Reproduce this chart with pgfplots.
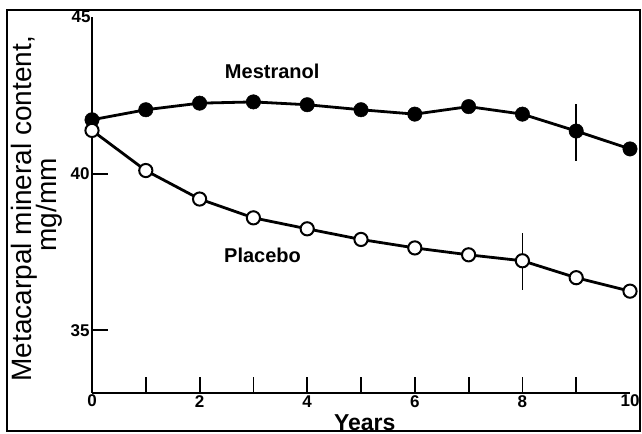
\documentclass[border=0pt]{standalone}
\usepackage{pgfplots}
\pgfplotsset{compat=1.18}
\usepackage{fontspec}
\setmainfont{Liberation Sans}
\newcommand\tlfont{\fontsize{17bp}{20bp}\selectfont\bfseries}
\begin{document}
\begin{tikzpicture}
\begin{axis}[
  width=538bp, height=376bp, scale only axis,
  xmin=0, xmax=10, ymin=33, ymax=45,
  axis lines=left,
  axis line style={-, line width=2.2bp},
  clip=false,
  tick align=inside,
  xtick={1,...,9},
  xticklabels={,2,,4,,6,,8,},
  extra x ticks={0,10},
  extra x tick labels={0,10},
  extra x tick style={major tick length=0pt, xticklabel style={font=\tlfont, yshift=1bp}},
  ytick={35,40},
  extra y ticks={45},
  extra y tick labels={45},
  extra y tick style={major tick length=0pt, yticklabel style={font=\tlfont, xshift=1bp}},
  major tick length=16bp,
  tick style={line width=1.8bp, black},
  /pgf/number format/assume math mode=true,
  xticklabel style={font=\tlfont, yshift=1bp},
  yticklabel style={font=\tlfont, xshift=1bp},
]
\addplot[black, line width=2.8bp, mark=*, mark size=7.2bp, mark options={solid, fill=black, line width=0.5bp}] coordinates {
(0,41.72) (1,42.04) (2,42.25) (3,42.29) (4,42.20) (5,42.04) (6,41.90) (7,42.14) (8,41.90) (9,41.36) (10,40.79)
};
\addplot[black, line width=2.8bp, mark=*, mark size=6.6bp, mark options={solid, fill=white, line width=2bp}] coordinates {
(0,41.38) (1,40.10) (2,39.19) (3,38.59) (4,38.24) (5,37.90) (6,37.63) (7,37.41) (8,37.22) (9,36.68) (10,36.25)
};
% error bars
\addplot[black, line width=1.5bp, forget plot, error bars/.cd, y dir=both, y explicit, error bar style={line width=1.5bp}, error mark=none] coordinates {
(9,41.32) +- (0,0.90)
};
\addplot[black, line width=1.5bp, forget plot, error bars/.cd, y dir=both, y explicit, error bar style={line width=1.5bp}, error mark=none] coordinates {
(8,37.20) +- (0,0.92)
};
\node[font=\fontsize{20bp}{24bp}\selectfont\bfseries] at (axis cs:3.35,43.26) {Mestranol};
\node[font=\fontsize{20bp}{24bp}\selectfont\bfseries] at (axis cs:3.17,37.40) {Placebo};
\node[font=\fontsize{23bp}{28bp}\selectfont\bfseries, anchor=base] at ([yshift=-37bp]axis cs:5.07,33) {Years};
\node[font=\fontsize{28bp}{30bp}\selectfont, rotate=90, anchor=base] at ([xshift=-60bp]rel axis cs:0,0.49) {Metacarpal mineral content,};
\node[font=\fontsize{28bp}{30bp}\selectfont, rotate=90, anchor=base] at ([xshift=-35bp]rel axis cs:0,0.50) {mg/mm};
\end{axis}
\draw[line width=1.3bp] (-85bp,-38bp) rectangle (548bp,383bp);
\pgfresetboundingbox
\path (-92bp,-41bp) rectangle (550bp,393bp);
\end{tikzpicture}
\end{document}
